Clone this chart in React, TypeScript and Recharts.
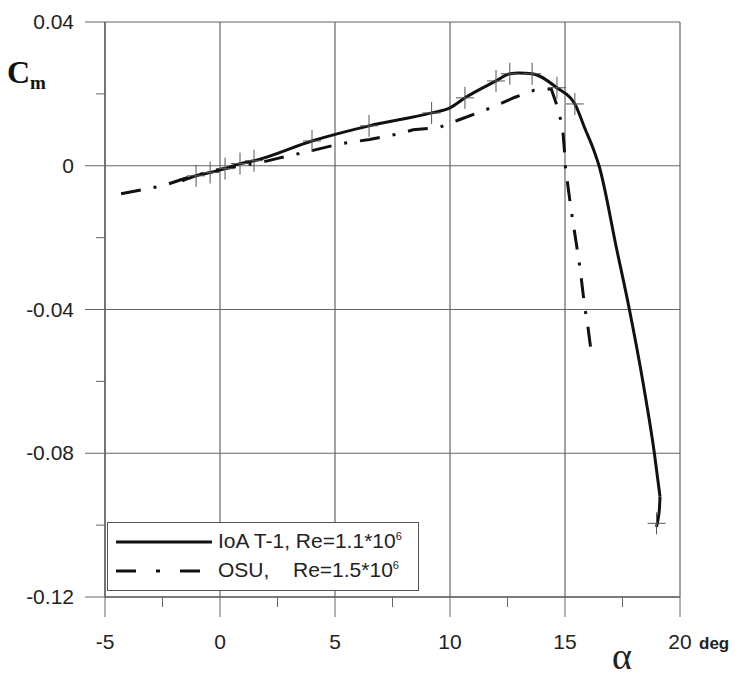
import { LineChart, Line, XAxis, YAxis, ReferenceLine } from "recharts";

// angle of attack (deg) and pitching moment
const ioaAlpha = [
  -1.65, -1.04, -0.43, 0.22, 0.87, 1.48, 4.0, 6.48, 9.2, 10.0, 10.65, 12.0, 12.6,
  13.0, 13.57, 14.65, 15.43, 15.87, 16.26, 16.48, 17.26, 17.8, 18.4, 18.88, 19.13,
];
const ioaCm = [
  -0.0042, -0.0028, -0.0019, -0.0008, 0.0006, 0.0014, 0.0069, 0.0111, 0.0147,
  0.0161, 0.0189, 0.0236, 0.0256, 0.0258, 0.0256, 0.0217, 0.0172, 0.0103, 0.0042,
  0.0, -0.0236, -0.04, -0.0606, -0.0797, -0.092,
];
// small hook at the bottom end of the IoA curve
const ioaTailAlpha = [19.13, 19.09, 18.98];
const ioaTailCm = [-0.092, -0.0965, -0.1005];

// measured points (crosses) on the IoA curve
const markAlpha = [-1.04, -0.43, 0.22, 0.87, 1.48, 4.0, 6.48, 9.2, 10.65, 12.0, 12.6, 13.57, 14.65, 15.43, 18.98];
const markCm = [-0.0028, -0.0019, -0.0008, 0.0006, 0.0014, 0.0069, 0.0111, 0.0147, 0.0189, 0.0236, 0.0256, 0.0256, 0.0217, 0.0172, -0.0995];

const osuAlpha = [
  -4.3, -2.5, -1.7, -1.0, 0.0, 1.7, 2.6, 4.0, 5.2, 6.5, 7.8, 8.4, 9.5, 10.4, 11.2,
  12.0, 12.8, 13.65, 14.4, 14.7, 14.9, 14.97, 15.02, 15.26, 15.5, 15.65, 15.85,
  16.0, 16.13,
];
const osuCm = [
  -0.0078, -0.0056, -0.0039, -0.0025, -0.001, 0.0008, 0.0022, 0.0042, 0.0061,
  0.0073, 0.0089, 0.01, 0.0106, 0.0128, 0.0147, 0.0167, 0.019, 0.021, 0.0214,
  0.0158, 0.0103, 0.0047, -0.0005, -0.012, -0.022, -0.0283, -0.039, -0.045,
  -0.0514,
];

const xTicks = [-5, -2.5, 0, 2.5, 5, 7.5, 10, 12.5, 15, 17.5, 20];
const xMajor = [-5, 0, 5, 10, 15, 20];
const yTicks = [-0.12, -0.1, -0.08, -0.06, -0.04, -0.02, 0, 0.02, 0.04];
const yMajor = [-0.12, -0.08, -0.04, 0, 0.04];

const ioaData = ioaAlpha.map((a, i) => ({ a, cm: ioaCm[i] }));
const ioaTail = ioaTailAlpha.map((a, i) => ({ a, cm: ioaTailCm[i] }));
const osuData = osuAlpha.map((a, i) => ({ a, cm: osuCm[i] }));
const markData = markAlpha.map((a, i) => ({ a, cm: markCm[i] }));

const SANS = "'Liberation Sans', Arial, sans-serif";
const SERIF = "'Liberation Serif', 'Times New Roman', serif";
const GRID = "#666";
const DASHDOT = "20 13 3 13";

const near = (v: number, list: number[]) => list.some((m) => Math.abs(m - v) < 1e-9);

function XTick({ x, y, payload }: any) {
  const v = payload.value;
  const major = near(v, xMajor);
  return (
    <g>
      <line x1={x} x2={x} y1={y} y2={y + (major ? 20 : 10)} stroke={GRID} />
      {major && (
        <text x={x} y={y + 52} textAnchor="middle" fontSize={21} fontFamily={SANS} fill="#222">
          {v}
        </text>
      )}
      {v === 20 && (
        <text x={x + 19} y={y + 52} fontSize={17} fontWeight="bold" fontFamily={SANS} fill="#222">
          deg
        </text>
      )}
    </g>
  );
}

function YTick({ x, y, payload }: any) {
  const v = payload.value;
  const major = near(v, yMajor);
  return (
    <g>
      <line x1={x} x2={x - (major ? 20 : 9)} y1={y} y2={y} stroke={GRID} />
      {major && (
        <text x={x - 31} y={y + 7} textAnchor="end" fontSize={21} fontFamily={SANS} fill="#222">
          {Number(v.toFixed(2)).toString()}
        </text>
      )}
    </g>
  );
}

function Cross({ cx, cy }: any) {
  if (cx == null || cy == null) return null;
  return (
    <g>
      <line x1={cx - 9} x2={cx + 9} y1={cy} y2={cy} stroke="#555" strokeWidth={1} />
      <line x1={cx} x2={cx} y1={cy - 11} y2={cy + 11} stroke="#555" strokeWidth={1} />
    </g>
  );
}

export default function App() {
  return (
    <div style={{ position: "absolute", left: 0, top: 0, width: 739, height: 676, background: "#fff" }}>
      <LineChart width={739} height={676} margin={{ top: 22, right: 59, bottom: 0, left: 0 }}>
        <XAxis
          type="number"
          dataKey="a"
          domain={[-5, 20]}
          ticks={xTicks}
          allowDataOverflow
          height={79}
          tickSize={0}
          tickMargin={0}
          tickLine={false}
          tick={<XTick />}
          interval={0}
          axisLine={{ stroke: GRID, strokeWidth: 1.5 }}
        />
        <YAxis
          type="number"
          dataKey="cm"
          domain={[-0.12, 0.04]}
          ticks={yTicks}
          allowDataOverflow
          width={105}
          tickSize={0}
          tickMargin={0}
          tickLine={false}
          tick={<YTick />}
          interval={0}
          axisLine={{ stroke: GRID, strokeWidth: 1.5 }}
        />
        {xMajor.map((v) => (
          <ReferenceLine key={"x" + v} x={v} stroke={GRID} strokeWidth={1.2} />
        ))}
        {yMajor.map((v) => (
          <ReferenceLine key={"y" + v} y={v} stroke={GRID} strokeWidth={1.2} />
        ))}
        <Line
          data={osuData}
          dataKey="cm"
          type="linear"
          stroke="#111"
          strokeWidth={3}
          strokeDasharray={DASHDOT}
          dot={false}
          isAnimationActive={false}
        />
        <Line
          data={ioaData}
          dataKey="cm"
          type="monotone"
          stroke="#111"
          strokeWidth={3}
          dot={false}
          isAnimationActive={false}
        />
        <Line
          data={ioaTail}
          dataKey="cm"
          type="natural"
          stroke="#111"
          strokeWidth={3}
          dot={false}
          isAnimationActive={false}
        />
        <Line
          data={markData}
          dataKey="cm"
          stroke="none"
          dot={<Cross />}
          activeDot={false}
          isAnimationActive={false}
        />
      </LineChart>

      {/* axis titles */}
      <div style={{ position: "absolute", left: 7, top: 54, fontFamily: SERIF, fontWeight: "bold", fontSize: 32, color: "#111" }}>
        C<span style={{ fontSize: 19, position: "relative", top: 6 }}>m</span>
      </div>
      <div style={{ position: "absolute", left: 612, top: 636, fontFamily: SERIF, fontSize: 38, color: "#222", lineHeight: "40px" }}>
        α
      </div>

      {/* legend */}
      <div
        style={{
          position: "absolute",
          left: 107,
          top: 522,
          width: 310,
          height: 67,
          border: "1.5px solid #555",
          background: "#fff",
          fontFamily: SANS,
          fontSize: 21,
          color: "#222",
        }}
      >
        <svg width={100} height={67} style={{ position: "absolute", left: 6, top: 0 }}>
          <line x1={2} x2={98} y1={19} y2={19} stroke="#111" strokeWidth={3} />
          <line x1={2} x2={98} y1={48} y2={48} stroke="#111" strokeWidth={3} strokeDasharray="20 20 4 20" />
        </svg>
        <div style={{ position: "absolute", left: 110, top: 6, whiteSpace: "nowrap" }}>
          IoA T-1, Re=1.1*10<sup style={{ fontSize: 11 }}>6</sup>
        </div>
        <div style={{ position: "absolute", left: 110, top: 35, whiteSpace: "nowrap" }}>OSU,</div>
        <div style={{ position: "absolute", left: 185, top: 35, whiteSpace: "nowrap" }}>
          Re=1.5*10<sup style={{ fontSize: 11 }}>6</sup>
        </div>
      </div>
    </div>
  );
}
